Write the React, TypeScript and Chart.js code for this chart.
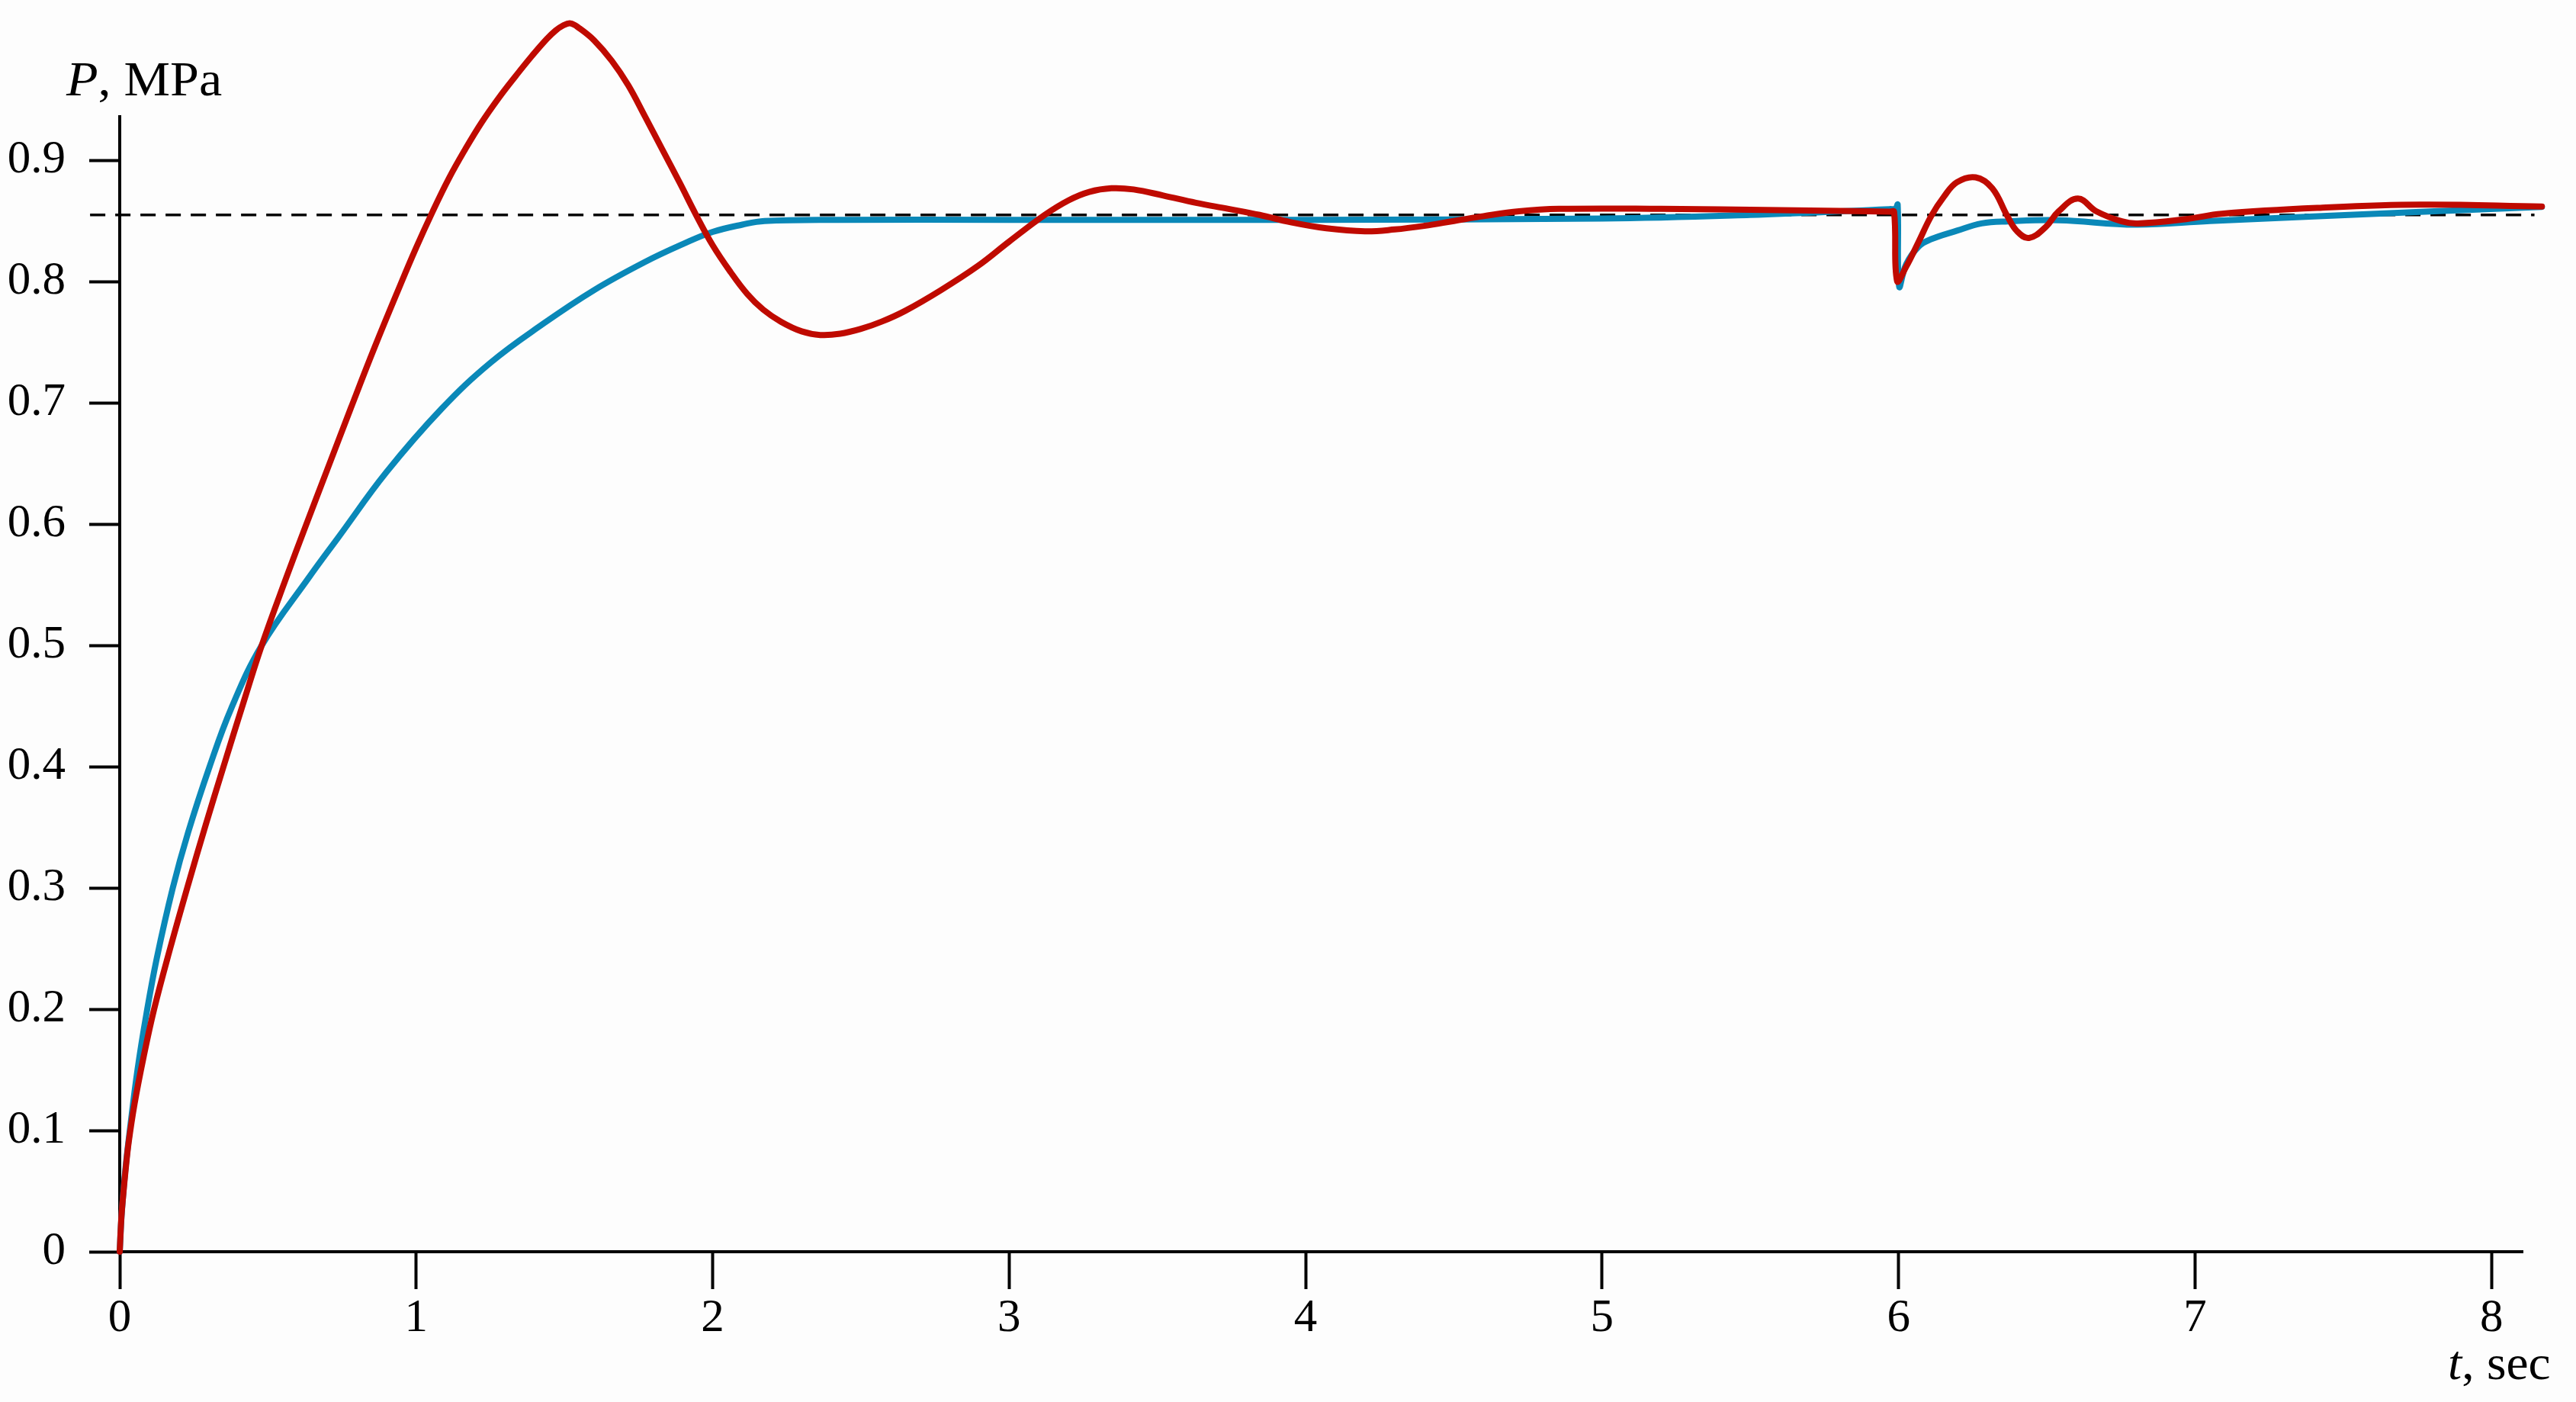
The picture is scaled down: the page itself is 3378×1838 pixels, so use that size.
import React, { useEffect, useRef } from 'react';
import { Chart, registerables } from 'chart.js';

Chart.register(...registerables);

// Time (s) and pressure (MPa) for the red curve
const redT = [0, 0.005, 0.01, 0.02, 0.03, 0.05, 0.08, 0.116, 0.17, 0.23, 0.29, 0.35, 0.415, 0.479, 0.565, 0.625, 0.7, 0.78, 0.86, 0.946, 1.0, 1.054, 1.11, 1.165, 1.22, 1.28, 1.337, 1.39, 1.44, 1.47, 1.494, 1.52, 1.55, 1.6, 1.66, 1.715, 1.77, 1.83, 1.89, 1.944, 2.0, 2.06, 2.116, 2.17, 2.23, 2.3, 2.363, 2.43, 2.5, 2.57, 2.65, 2.77, 2.895, 3.0, 3.12, 3.2, 3.27, 3.345, 3.42, 3.52, 3.63, 3.74, 3.845, 3.95, 4.07, 4.2, 4.3, 4.4, 4.5, 4.6, 4.72, 4.855, 5.2, 5.6, 5.9, 5.97, 5.985, 5.995, 6.025, 6.068, 6.11, 6.153, 6.197, 6.26, 6.316, 6.367, 6.4, 6.44, 6.496, 6.54, 6.605, 6.667, 6.753, 6.807, 6.97, 7.09, 7.43, 7.76, 8.17];
const redP = [0, 0.026, 0.042, 0.068, 0.09, 0.122, 0.16, 0.2, 0.25, 0.302, 0.352, 0.4, 0.451, 0.5, 0.558, 0.597, 0.645, 0.696, 0.746, 0.797, 0.828, 0.857, 0.885, 0.909, 0.931, 0.952, 0.97, 0.986, 1.0, 1.007, 1.011, 1.013, 1.009, 0.999, 0.982, 0.962, 0.937, 0.909, 0.881, 0.855, 0.83, 0.808, 0.79, 0.777, 0.767, 0.759, 0.756, 0.757, 0.761, 0.767, 0.776, 0.793, 0.813, 0.833, 0.855, 0.867, 0.874, 0.877, 0.876, 0.871, 0.865, 0.86, 0.855, 0.849, 0.844, 0.8415, 0.843, 0.846, 0.85, 0.854, 0.858, 0.86, 0.86, 0.859, 0.858, 0.8577, 0.8575, 0.8005, 0.812, 0.833, 0.854, 0.87, 0.882, 0.886, 0.877, 0.854, 0.8415, 0.836, 0.845, 0.858, 0.8685, 0.858, 0.8497, 0.848, 0.8516, 0.856, 0.861, 0.8635, 0.862];

// Time (s) and pressure (MPa) for the blue curve
const blueT = [0, 0.005, 0.01, 0.02, 0.034, 0.06, 0.09, 0.125, 0.179, 0.231, 0.303, 0.376, 0.479, 0.638, 0.74, 0.9, 1.085, 1.25, 1.427, 1.6, 1.77, 1.9, 2.0, 2.1, 2.175, 2.42, 3.0, 4.0, 5.0, 5.5, 5.9, 5.97, 5.99, 5.997, 6.002, 6.025, 6.068, 6.11, 6.197, 6.28, 6.37, 6.54, 6.8, 7.05, 7.43, 7.76, 8.17];
const blueP = [0, 0.025, 0.042, 0.07, 0.1, 0.15, 0.196, 0.242, 0.3, 0.346, 0.4, 0.448, 0.5, 0.556, 0.59, 0.643, 0.695, 0.733, 0.765, 0.793, 0.816, 0.831, 0.841, 0.847, 0.85, 0.851, 0.851, 0.851, 0.852, 0.855, 0.859, 0.8598, 0.8602, 0.8635, 0.796, 0.814, 0.829, 0.835, 0.842, 0.848, 0.8497, 0.8506, 0.847, 0.85, 0.854, 0.8575, 0.8616];

// Reference (set-point) dashed line
const refT = [-0.1, 8.145];
const refP = [0.855, 0.855];

// Axis ticks and labels
const xTickValues = [0, 1, 2, 3, 4, 5, 6, 7, 8];
const xTickLabels = ['0', '1', '2', '3', '4', '5', '6', '7', '8'];
const yTickValues = [0, 0.1, 0.2, 0.3, 0.4, 0.5, 0.6, 0.7, 0.8, 0.9];
const yTickLabels = ['0', '0.1', '0.2', '0.3', '0.4', '0.5', '0.6', '0.7', '0.8', '0.9'];

// Axis titles: [text, italic]
const yTitleParts: [string, boolean][] = [['P', true], [', MPa', false]];
const xTitleParts: [string, boolean][] = [['t', true], [', sec', false]];

const X_MIN = 0;
const X_MAX = 8.105;
const Y_MIN = 0;
const Y_MAX = 0.936;

const FONT = '"Liberation Serif", "Times New Roman", Times, serif';
const RED = '#bf0a00';
const BLUE = '#0a88b8';
const BG = '#fdfdfd';

const W = 3378;
const H = 1838;

function toPoints(xs: number[], ys: number[]) {
  return xs.map((x, i) => ({ x, y: ys[i] }));
}

const bgPlugin = {
  id: 'bg',
  beforeDraw(chart: any) {
    const ctx = chart.ctx;
    ctx.save();
    ctx.fillStyle = BG;
    ctx.fillRect(0, 0, chart.width, chart.height);
    ctx.restore();
  },
};

function drawParts(ctx: CanvasRenderingContext2D, parts: [string, boolean][], x: number, y: number, size: number, stretch: number) {
  ctx.save();
  ctx.translate(x, y);
  ctx.scale(stretch, 1);
  let cx = 0;
  for (const [text, italic] of parts) {
    ctx.font = `${italic ? 'italic ' : ''}${size}px ${FONT}`;
    ctx.fillText(text, cx, 0);
    cx += ctx.measureText(text).width;
  }
  ctx.restore();
}

const titlePlugin = {
  id: 'axisTitles',
  afterDraw(chart: any) {
    const ctx = chart.ctx as CanvasRenderingContext2D;
    const a = chart.chartArea;
    ctx.save();
    ctx.fillStyle = '#000';
    ctx.textBaseline = 'alphabetic';
    ctx.textAlign = 'left';
    drawParts(ctx, yTitleParts, a.left - 70, 125, 63, 1.08);
    drawParts(ctx, xTitleParts, a.right - 98, a.bottom + 167, 63, 1.04);
    ctx.restore();
  },
};

const curveStyle = {
  borderWidth: 8,
  pointRadius: 0,
  tension: 0.4,
  cubicInterpolationMode: 'default',
  capBezierPoints: false,
  borderCapStyle: 'round',
  borderJoinStyle: 'round',
  fill: false,
  clip: false,
};

export default function App() {
  const ref = useRef<HTMLCanvasElement | null>(null);

  useEffect(() => {
    if (!ref.current) return;
    const chart = new Chart(ref.current, {
      type: 'line',
      data: {
        datasets: [
          {
            label: 'red',
            data: toPoints(redT, redP),
            borderColor: RED,
            backgroundColor: RED,
            ...curveStyle,
          } as any,
          {
            label: 'blue',
            data: toPoints(blueT, blueP),
            borderColor: BLUE,
            backgroundColor: BLUE,
            ...curveStyle,
          } as any,
          {
            label: 'ref',
            data: toPoints(refT, refP),
            borderColor: '#000',
            borderWidth: 3.5,
            borderDash: [20, 13],
            pointRadius: 0,
            tension: 0,
            fill: false,
            clip: false,
          } as any,
        ],
      },
      options: {
        responsive: false,
        maintainAspectRatio: false,
        animation: false,
        devicePixelRatio: 1,
        events: [],
        elements: { line: { capBezierPoints: false } },
        layout: { padding: { top: 153, right: 70, left: 0, bottom: 0 } },
        plugins: {
          legend: { display: false },
          tooltip: { enabled: false },
        },
        scales: {
          x: {
            type: 'linear',
            min: X_MIN,
            max: X_MAX,
            afterBuildTicks: (scale: any) => {
              scale.ticks = xTickValues.map((v) => ({ value: v }));
            },
            afterFit: (scale: any) => {
              scale.height = H - 1641;
            },
            ticks: {
              autoSkip: false,
              maxRotation: 0,
              minRotation: 0,
              padding: 2,
              color: '#000',
              font: { family: FONT, size: 61 },
              callback: (_v: any, i: number) => xTickLabels[i],
            },
            grid: {
              drawOnChartArea: false,
              drawTicks: true,
              tickLength: 49,
              tickWidth: 4,
              tickColor: '#000',
            },
            border: { display: true, color: '#000', width: 4 },
          },
          y: {
            type: 'linear',
            min: Y_MIN,
            max: Y_MAX,
            afterBuildTicks: (scale: any) => {
              scale.ticks = yTickValues.map((v) => ({ value: v }));
            },
            afterFit: (scale: any) => {
              scale.width = 157;
            },
            ticks: {
              autoSkip: false,
              padding: 31,
              color: '#000',
              font: { family: FONT, size: 61 },
              callback: (_v: any, i: number) => yTickLabels[i],
            },
            grid: {
              drawOnChartArea: false,
              drawTicks: true,
              tickLength: 40,
              tickWidth: 4,
              tickColor: '#000',
            },
            border: { display: true, color: '#000', width: 4 },
          },
        },
      } as any,
      plugins: [bgPlugin, titlePlugin],
    });
    return () => chart.destroy();
  }, []);

  return (
    <div style={{ position: 'absolute', left: 0, top: 0, width: W, height: H, background: BG }}>
      <canvas ref={ref} width={W} height={H} style={{ display: 'block', width: W, height: H }} />
    </div>
  );
}
